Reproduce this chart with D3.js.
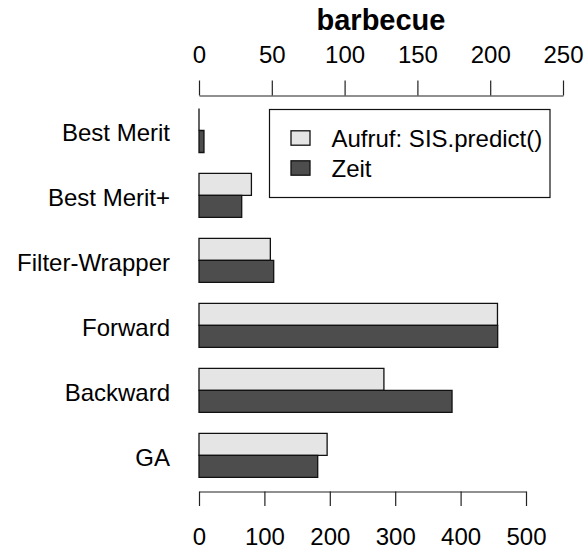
<!DOCTYPE html>
<html>
<head>
<meta charset="utf-8">
<script src="https://cdn.jsdelivr.net/npm/d3@7"></script>
<style>
  html, body { margin: 0; padding: 0; background: #fff; }
  svg { display: block; }
  text { font-family: "Liberation Sans", Arial, sans-serif; fill: #000; }
</style>
</head>
<body>
<script>
// Feature-selection methods on the barbecue data set
const categories = ["Best Merit", "Best Merit+", "Filter-Wrapper", "Forward", "Backward", "GA"];
// number of SIS.predict() calls (top axis)
const aufrufValues = [0, 36, 49, 205, 127, 88];
// run time (bottom axis)
const zeitValues = [7.6, 65.3, 114.2, 456.7, 386.9, 181.5];
const seriesNames = ["Aufruf: SIS.predict()", "Zeit"];
const seriesColors = ["#e5e5e5", "#4d4d4d"];
const topTicks = [0, 50, 100, 150, 200, 250];
const bottomTicks = [0, 100, 200, 300, 400, 500];
const chartTitle = "barbecue";

const W = 584, H = 549;
const FS = 24;

const svg = d3.select("body").append("svg")
  .attr("width", W).attr("height", H);

const x0 = 199;
const xTop = d3.scaleLinear().domain([0, 250]).range([x0, 563]);
const xBottom = d3.scaleLinear().domain([0, 500]).range([x0, 526]);

const y = d3.scaleBand()
  .domain(categories)
  .range([108.5, 477.3])
  .paddingInner(0.323)
  .paddingOuter(0);
const barH = y.bandwidth() / 2;

const rows = categories.map((c, i) => ({
  cat: c,
  bars: [
    { s: 0, x1: xTop(aufrufValues[i]) },
    { s: 1, x1: xBottom(zeitValues[i]) }
  ]
}));

// bars as closed paths so a zero-length bar still shows its outline
const g = svg.append("g");
rows.forEach(r => {
  r.bars.forEach(b => {
    const yt = y(r.cat) + b.s * barH;
    g.append("path")
      .attr("d", `M${x0},${yt}H${b.x1}V${yt + barH}H${x0}Z`)
      .attr("fill", seriesColors[b.s])
      .attr("stroke", "#111")
      .attr("stroke-width", 1.3);
  });
});

// category labels
svg.append("g").selectAll("text")
  .data(categories).join("text")
  .attr("x", 170)
  .attr("y", d => y(d) + y.bandwidth() / 2 + 11)
  .attr("text-anchor", "end")
  .attr("font-size", FS)
  .text(d => d);

// top axis
const axT = svg.append("g")
  .attr("transform", "translate(0,95.5)")
  .call(d3.axisTop(xTop).tickValues(topTicks).tickSize(15).tickSizeOuter(0));
// bottom axis
const axB = svg.append("g")
  .attr("transform", "translate(0,491.5)")
  .call(d3.axisBottom(xBottom).tickValues(bottomTicks).tickSize(14.5).tickSizeOuter(0));

[axT, axB].forEach(ax => {
  ax.select(".domain").attr("stroke", "#222").attr("stroke-width", 1.2);
  ax.selectAll(".tick line").attr("stroke", "#222").attr("stroke-width", 1.2);
  ax.selectAll(".tick text")
    .attr("font-size", FS)
    .attr("font-family", "'Liberation Sans', Arial, sans-serif")
    .attr("fill", "#000");
});
axT.selectAll(".tick text").attr("dy", 0).attr("y", -32.5);
axB.selectAll(".tick text").attr("dy", 0).attr("y", 53.5);

// title
svg.append("text")
  .attr("x", 381).attr("y", 29.5)
  .attr("text-anchor", "middle")
  .attr("font-size", 29)
  .attr("font-weight", "bold")
  .text(chartTitle);

// legend
const lg = svg.append("g");
lg.append("rect")
  .attr("x", 269.5).attr("y", 109.5)
  .attr("width", 280.5).attr("height", 88)
  .attr("fill", "#fff").attr("stroke", "#111").attr("stroke-width", 1.2);
seriesNames.forEach((n, i) => {
  const cy = 138 + i * 30;
  lg.append("rect")
    .attr("x", 291).attr("y", cy - 7.2)
    .attr("width", 19).attr("height", 14.4)
    .attr("fill", seriesColors[i]).attr("stroke", "#111").attr("stroke-width", 1.3);
  lg.append("text")
    .attr("x", 331.5).attr("y", cy + 9)
    .attr("font-size", FS)
    .text(n);
});
</script>
</body>
</html>
